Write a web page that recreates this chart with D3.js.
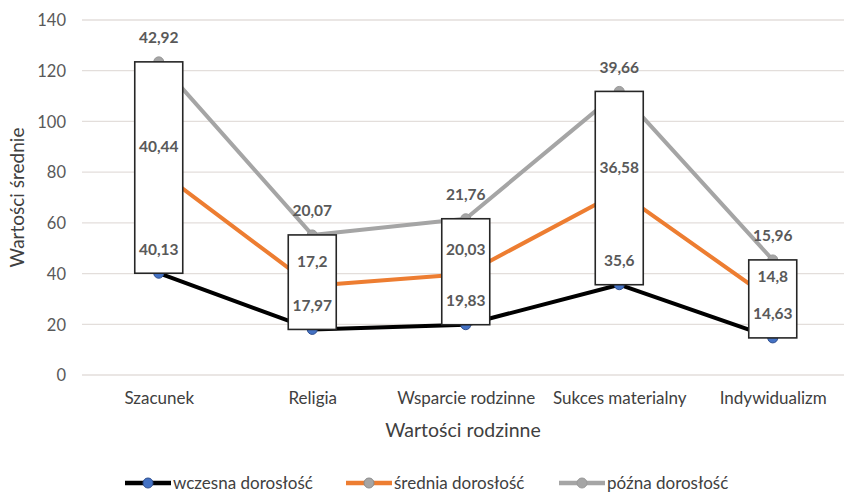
<!DOCTYPE html>
<html>
<head>
<meta charset="utf-8">
<script src="https://cdn.jsdelivr.net/npm/d3@7"></script>
<style>
  html, body { margin: 0; padding: 0; background: #fff; }
  svg { display: block; }
  text { font-family: Lato, "Open Sans", sans-serif; }
</style>
</head>
<body>
<svg id="chart" width="844" height="493"></svg>
<script>
const categories = ["Szacunek", "Religia", "Wsparcie rodzinne", "Sukces materialny", "Indywidualizm"];
const wczesna = [40.13, 17.97, 19.83, 35.6, 14.63];
const srednia = [40.44, 17.2, 20.03, 36.58, 14.8];
const pozna = [42.92, 20.07, 21.76, 39.66, 15.96];
const seriesNames = ["wczesna dorosłość", "średnia dorosłość", "późna dorosłość"];
const yTicks = [0, 20, 40, 60, 80, 100, 120, 140];

const svg = d3.select("#chart");
const W = 844, H = 493;
const plot = { left: 82, right: 849.5, top: 20, bottom: 375 };

const x = d3.scalePoint().domain(categories).range([plot.left, plot.right]).padding(0.5);
const y = d3.scaleLinear().domain([0, 140]).range([plot.bottom, plot.top]);

// stacked values
const stack1 = wczesna.slice();
const stack2 = wczesna.map((v, i) => v + srednia[i]);
const stack3 = stack2.map((v, i) => v + pozna[i]);
const stacked = [stack1, stack2, stack3];
const raw = [wczesna, srednia, pozna];
const colors = ["#000000", "#ED7D31", "#A5A5A5"];
const markerFill = ["#4472C4", "#A5A5A5", "#A5A5A5"];
const markerStroke = ["#2F4F8F", "#8c8c8c", "#9a9a9a"];
const fmt = v => String(v).replace(".", ",");

// gridlines
const yAxis = d3.axisLeft(y).tickValues(yTicks).tickSize(0).tickPadding(0);
svg.append("g")
  .attr("class", "grid")
  .selectAll("line").data(yTicks).join("line")
  .attr("x1", plot.left).attr("x2", W)
  .attr("y1", d => y(d)).attr("y2", d => y(d))
  .attr("stroke", "#E3DEDB").attr("stroke-width", 1.3);

const gy = svg.append("g").attr("transform", `translate(${plot.left - 16},0)`).call(yAxis);
gy.select(".domain").remove();
gy.selectAll("text").attr("font-size", 16.5).attr("fill", "#595959")
  .attr("font-family", "Lato, sans-serif").attr("dy", "0.35em");

// x axis labels
const xAxis = d3.axisBottom(x).tickSize(0).tickPadding(0);
const gx = svg.append("g").attr("transform", `translate(0,${plot.bottom + 17})`).call(xAxis);
gx.select(".domain").remove();
gx.selectAll("text").attr("font-size", 17).attr("fill", "#404040")
  .attr("font-family", "Lato, sans-serif");

// axis titles
svg.append("text").attr("x", 463).attr("y", 437).attr("text-anchor", "middle")
  .attr("font-size", 19.5).attr("fill", "#404040").text("Wartości rodzinne");
svg.append("text").attr("transform", `translate(24,${(plot.top + plot.bottom) / 2}) rotate(-90)`)
  .attr("text-anchor", "middle").attr("font-size", 19).attr("fill", "#404040").text("Wartości średnie");

// lines
const line = d3.line().x((d, i) => x(categories[i])).y(d => y(d));
stacked.forEach((s, k) => {
  svg.append("path").datum(s).attr("d", line).attr("fill", "none")
    .attr("stroke", colors[k]).attr("stroke-width", 4).attr("stroke-linejoin", "round");
});

// markers
stacked.forEach((s, k) => {
  svg.append("g").selectAll("circle").data(s).join("circle")
    .attr("cx", (d, i) => x(categories[i])).attr("cy", d => y(d)).attr("r", 5)
    .attr("fill", markerFill[k]).attr("stroke", markerStroke[k]).attr("stroke-width", 1);
});

// up-down bars
const barW = 48;
svg.append("g").selectAll("rect").data(categories).join("rect")
  .attr("x", d => x(d) - barW / 2)
  .attr("y", (d, i) => y(stack3[i]))
  .attr("width", barW)
  .attr("height", (d, i) => y(stack1[i]) - y(stack3[i]))
  .attr("fill", "#ffffff").attr("stroke", "#262626").attr("stroke-width", 1.6);

// data labels
stacked.forEach((s, k) => {
  svg.append("g").selectAll("text").data(s).join("text")
    .attr("x", (d, i) => x(categories[i]))
    .attr("y", d => y(d) - 24)
    .attr("dy", "0.35em")
    .attr("text-anchor", "middle")
    .attr("font-size", 15.5).attr("font-weight", "bold").attr("fill", "#595959")
    .text((d, i) => fmt(raw[k][i]));
});

// legend
const legendX = [125, 346, 559];
const legendY = 483;
seriesNames.forEach((name, k) => {
  const g = svg.append("g").attr("transform", `translate(${legendX[k]},${legendY})`);
  g.append("line").attr("x1", 0).attr("x2", 46).attr("y1", 0).attr("y2", 0)
    .attr("stroke", colors[k]).attr("stroke-width", 4.5);
  g.append("circle").attr("cx", 23).attr("cy", 0).attr("r", 5)
    .attr("fill", markerFill[k]).attr("stroke", markerStroke[k]).attr("stroke-width", 1);
  g.append("text").attr("x", 48).attr("y", 0).attr("dy", "0.35em")
    .attr("font-size", 17).attr("fill", "#404040").text(name);
});
</script>
</body>
</html>
